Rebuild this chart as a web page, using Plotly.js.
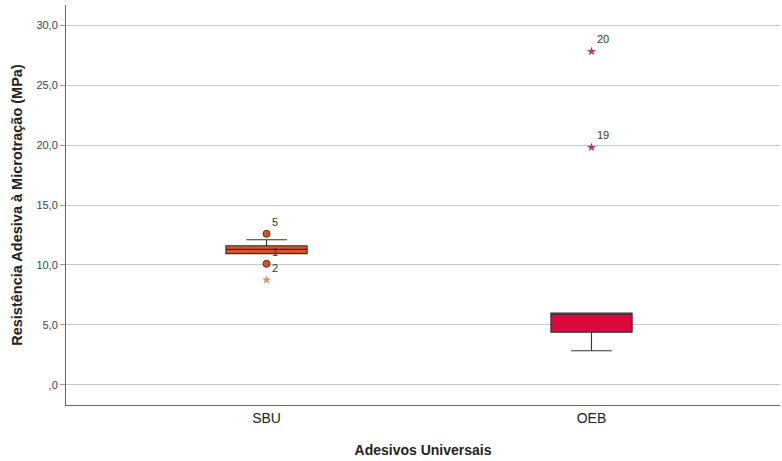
<!DOCTYPE html>
<html><head><meta charset="utf-8">
<script src="https://cdn.plot.ly/plotly-3.0.1.min.js"></script>
<style>html,body{margin:0;padding:0;background:#fff}#chart{width:782px;height:461px}</style>
</head><body><div id="chart"></div>
<script>
const categories = ['SBU', 'OEB'];
const boxColors = ['#d4532c', '#dc0a3c'];
const q1 = [10.95, 4.4];
const median = [11.3, 5.85];
const q3 = [11.6, 6.0];
const lowerFence = [10.95, 2.85];
const upperFence = [12.1, 6.0];

const mildCats = ['SBU', 'SBU'];
const mildVals = [12.6, 10.1];
const mildLabels = ['5', '1'];

const extremeCats = ['SBU', 'OEB', 'OEB'];
const extremeVals = [8.75, 19.8, 27.8];
const extremeLabels = ['2', '19', '20'];
const extremeColors = ['#e08a6a', '#b8385a', '#b8385a'];

const yTickVals = [0, 5, 10, 15, 20, 25, 30];
const yTickText = [',0', '5,0', '10,0', '15,0', '20,0', '25,0', '30,0'];

const traces = categories.map((c, i) => ({
  type: 'box',
  x: [c],
  q1: [q1[i]], median: [median[i]], q3: [q3[i]],
  lowerfence: [lowerFence[i]], upperfence: [upperFence[i]],
  boxpoints: false,
  width: 0.25,
  whiskerwidth: 0.5,
  fillcolor: boxColors[i],
  line: {color: '#333333', width: 1.1},
  showlegend: false,
  hoverinfo: 'skip'
}));

traces.push({
  type: 'scatter', mode: 'markers+text',
  x: mildCats, y: mildVals, text: mildLabels,
  textposition: 'top right',
  textfont: {family: 'Liberation Sans, Arial, sans-serif', size: 11, color: '#333'},
  marker: {symbol: 'circle', size: 7, color: '#d4532c', line: {color: '#5a2a1a', width: 1}},
  showlegend: false, cliponaxis: false
});
traces.push({
  type: 'scatter', mode: 'markers+text',
  x: extremeCats, y: extremeVals, text: extremeLabels,
  textposition: 'top right',
  textfont: {family: 'Liberation Sans, Arial, sans-serif', size: 11, color: '#333'},
  marker: {symbol: 'star', size: 7, color: extremeColors},
  showlegend: false, cliponaxis: false
});

const layout = {
  width: 782, height: 461,
  margin: {l: 66, r: 2, t: 5, b: 56},
  paper_bgcolor: '#fff', plot_bgcolor: '#fff',
  font: {family: 'Liberation Sans, Arial, sans-serif', color: '#222'},
  xaxis: {
    type: 'category',
    range: [-0.617, 1.58],
    showline: true, linecolor: '#666', linewidth: 1,
    showgrid: false, zeroline: false,
    ticks: '', ticklen: 3,
    tickfont: {size: 14, color: '#222'},
    title: {text: '<b>Adesivos Universais</b>', font: {size: 14, color: '#222'}, standoff: 20}
  },
  yaxis: {
    range: [-1.67, 31.67],
    tickvals: yTickVals, ticktext: yTickText,
    showline: true, linecolor: '#666', linewidth: 1,
    showgrid: true, gridcolor: '#c8c8c8', gridwidth: 1,
    zeroline: false,
    ticks: 'outside', ticklen: 5, tickcolor: '#999',
    tickfont: {size: 11, color: '#444'},
    title: {text: '<b>Resistência Adesiva à Microtração (MPa)</b>', font: {size: 14.5, color: '#222'}, standoff: 10}
  }
};

Plotly.newPlot('chart', traces, layout, {displayModeBar: false, staticPlot: true});
</script></body></html>
